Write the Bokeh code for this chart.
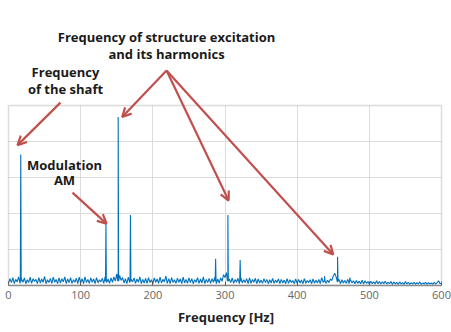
from bokeh.plotting import figure
from bokeh.models import (Label, Arrow, OpenHead, LinearAxis, FixedTicker,
                          ColumnDataSource, BoxAnnotation)
from bokeh.embed import file_html
from bokeh.resources import INLINE

# ---- data (y in arbitrary amplitude units, 0..5) ----
peak_freq = [17, 135, 152, 169, 287, 304, 321, 438, 456, 473]
peak_amp = [3.64, 1.71, 4.68, 1.96, 0.74, 1.96, 0.71, 0.26, 0.80, 0.22]

noise_step = 2  # Hz between noise-floor samples
noise_amp = [
    0.06, 0.19, 0.08, 0.22, 0.05, 0.17, 0.10, 0.24, 0.06, 0.18,
    0.09, 0.21, 0.05, 0.16, 0.08, 0.23, 0.06, 0.19, 0.11, 0.17,
    0.05, 0.22, 0.07, 0.18, 0.09, 0.25, 0.05, 0.16, 0.08, 0.20,
    0.06, 0.23, 0.09, 0.17, 0.05, 0.21, 0.07, 0.19, 0.10, 0.24,
    0.05, 0.18, 0.08, 0.22, 0.06, 0.16, 0.09, 0.20, 0.05, 0.23,
    0.07, 0.19, 0.05, 0.24, 0.08, 0.17, 0.06, 0.21, 0.09, 0.18,
    0.05, 0.22, 0.07, 0.16, 0.10, 0.20, 0.06, 0.25, 0.08, 0.18,
    0.06, 0.21, 0.09, 0.24, 0.12, 0.32, 0.38, 0.28, 0.14, 0.22,
    0.07, 0.19, 0.05, 0.23, 0.08, 0.17, 0.10, 0.21, 0.06, 0.18,
    0.09, 0.24, 0.05, 0.17, 0.07, 0.20, 0.06, 0.22, 0.08, 0.16,
    0.05, 0.21, 0.09, 0.18, 0.06, 0.23, 0.07, 0.17, 0.10, 0.26,
    0.06, 0.19, 0.05, 0.22, 0.08, 0.16, 0.06, 0.20, 0.09, 0.18,
    0.05, 0.23, 0.07, 0.17, 0.06, 0.21, 0.08, 0.19, 0.05, 0.16,
    0.09, 0.22, 0.06, 0.18, 0.07, 0.24, 0.05, 0.17, 0.08, 0.20,
    0.06, 0.19, 0.09, 0.23, 0.05, 0.18, 0.07, 0.21, 0.12, 0.30,
    0.22, 0.36, 0.30, 0.18, 0.08, 0.21, 0.06, 0.17, 0.09, 0.20,
    0.05, 0.22, 0.07, 0.16, 0.08, 0.19, 0.05, 0.21, 0.06, 0.17,
    0.09, 0.20, 0.05, 0.18, 0.07, 0.15, 0.06, 0.19, 0.08, 0.17,
    0.05, 0.16, 0.07, 0.20, 0.06, 0.15, 0.08, 0.18, 0.05, 0.17,
    0.07, 0.15, 0.05, 0.19, 0.06, 0.16, 0.08, 0.14, 0.05, 0.18,
    0.06, 0.17, 0.07, 0.15, 0.05, 0.19, 0.06, 0.14, 0.08, 0.16,
    0.05, 0.18, 0.06, 0.15, 0.07, 0.17, 0.05, 0.22, 0.09, 0.16,
    0.06, 0.15, 0.08, 0.18, 0.14, 0.26, 0.34, 0.24, 0.10, 0.17,
    0.05, 0.16, 0.07, 0.14, 0.06, 0.17, 0.05, 0.15, 0.07, 0.13,
    0.05, 0.14, 0.06, 0.12, 0.05, 0.15, 0.04, 0.13, 0.06, 0.11,
    0.04, 0.12, 0.05, 0.10, 0.04, 0.13, 0.05, 0.11, 0.04, 0.10,
    0.05, 0.12, 0.04, 0.09, 0.05, 0.11, 0.03, 0.10, 0.04, 0.09,
    0.03, 0.10, 0.04, 0.08, 0.03, 0.11, 0.04, 0.09, 0.03, 0.08,
    0.04, 0.09, 0.03, 0.08, 0.04, 0.10, 0.03, 0.07, 0.04, 0.09,
    0.03, 0.08, 0.04, 0.07, 0.03, 0.09, 0.04, 0.08, 0.13, 0.05,
    0.06,
]

x_limits = (0, 600)
y_limits = (0, 5)
x_ticks = [0, 100, 200, 300, 400, 500, 600]
y_ticks = [1, 2, 3, 4]

# ---- build spectrum line from noise floor + peaks ----
pts = [(i * noise_step, a) for i, a in enumerate(noise_amp)]
for f, a in zip(peak_freq, peak_amp):
    pts += [(f - 0.6, 0.12), (f, a), (f + 0.6, 0.12)]
pts.sort()
src = ColumnDataSource(dict(f=[p[0] for p in pts], a=[p[1] for p in pts]))

FONT = "Open Sans"
RED = "#C0504D"
GRAY = "#8a8a8a"

# The frame covers the whole page above the x axis so that the annotation
# texts and arrows (which sit above the axes box) are not clipped.
W, H = 451, 332
box_l, box_r, box_t, box_b = 8, 441, 105, 285   # axes box in page pixels
xpp = (x_limits[1] - x_limits[0]) / (box_r - box_l)
ypp = (y_limits[1] - y_limits[0]) / (box_b - box_t)
x_range = (x_limits[0] - box_l * xpp, x_limits[1] + (W - box_r) * xpp)
y_range = (y_limits[0], y_limits[0] + box_b * ypp)

p = figure(width=W, height=H, x_range=x_range, y_range=y_range,
           output_backend="svg", toolbar_location=None,
           min_border_left=0, min_border_right=0, min_border_top=0,
           min_border_bottom=H - box_b,
           x_axis_location=None, y_axis_location=None)
p.outline_line_color = None
p.background_fill_color = "white"
p.border_fill_color = "white"

xax = LinearAxis(ticker=FixedTicker(ticks=x_ticks), bounds=x_limits)
xax.axis_line_color = GRAY
xax.axis_line_width = 1.5
xax.major_tick_in = 4
xax.major_tick_out = 0
xax.major_tick_line_color = "#555555"
xax.minor_tick_line_color = None
xax.major_label_text_font = FONT
xax.major_label_text_font_size = "11px"
xax.major_label_text_color = "#666666"
xax.major_label_standoff = 5
xax.axis_label = "Frequency [Hz]"
xax.axis_label_text_font = FONT
xax.axis_label_text_font_style = "bold"
xax.axis_label_text_font_size = "13px"
xax.axis_label_text_color = "#222222"
xax.axis_label_standoff = 6
p.add_layout(xax, "below")

p.xgrid.ticker = FixedTicker(ticks=x_ticks[1:-1])
p.ygrid.ticker = FixedTicker(ticks=y_ticks)
for g, cb in ((p.xgrid, y_limits), (p.ygrid, x_limits)):
    g.grid_line_color = "#dcdcdc"
    g.cross_bounds = cb

p.add_layout(BoxAnnotation(left=x_limits[0], right=x_limits[1],
                           bottom=y_limits[0], top=y_limits[1],
                           fill_color=None, line_color=GRAY, line_width=1.5))

p.line("f", "a", source=src, line_color="#0072BD", line_width=1.1)

# ---- annotations (data coordinates) ----
texts = [
    ("Frequency of structure excitation", 219, 6.90),
    ("and its harmonics", 219, 6.44),
    ("Frequency", 79, 5.92),
    ("of the shaft", 79, 5.47),
    ("Modulation", 77.6, 3.36),
    ("AM", 77.6, 2.92),
]
for t, x, y in texts:
    p.add_layout(Label(x=x, y=y, text=t, text_align="center", text_baseline="middle",
                       text_font=FONT, text_font_style="bold", text_font_size="13px",
                       text_color="#1a1a1a"))

arrows = [
    (72, 5.08, 12.5, 3.9),
    (219, 5.97, 157.5, 4.68),
    (219, 5.97, 305, 2.36),
    (219, 5.97, 450, 0.86),
    (88.7, 2.58, 135.8, 1.72),
]
for xs, ys, xe, ye in arrows:
    p.add_layout(Arrow(x_start=xs, y_start=ys, x_end=xe, y_end=ye,
                       line_color=RED, line_width=2.2,
                       end=OpenHead(size=9, line_color=RED, line_width=2.2)))

open("out.html", "w").write(file_html(p, INLINE))
